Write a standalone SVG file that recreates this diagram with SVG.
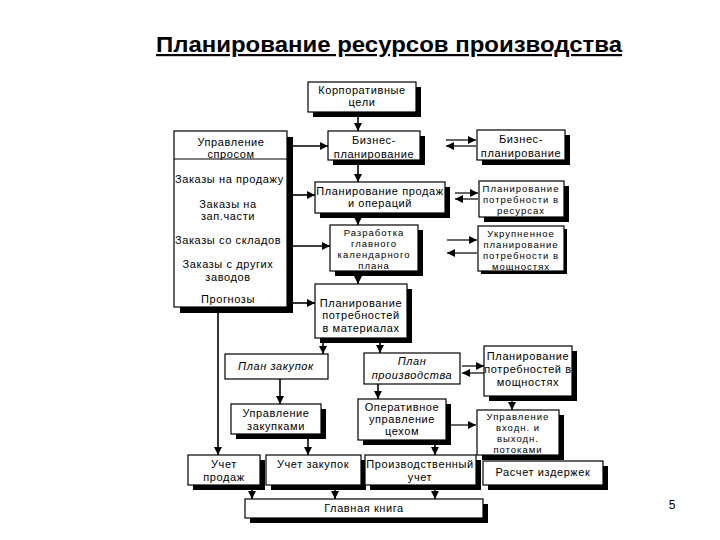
<svg xmlns="http://www.w3.org/2000/svg" width="720" height="540" viewBox="0 0 720 540">
<defs>
<marker id="ah" markerUnits="userSpaceOnUse" markerWidth="8" markerHeight="8" refX="8" refY="4" orient="auto">
<path d="M0,0 L8,4 L0,8 z" fill="#000"/>
</marker>
<style>
.b{fill:#fff;stroke:#000;stroke-width:1.2}
.s{fill:#000}
.t{font-family:"Liberation Sans",Arial,sans-serif;font-size:11px;letter-spacing:0.6px;fill:#000;text-anchor:middle}
.sm{font-size:9.5px;letter-spacing:1px}
.l{text-anchor:start}
.i{font-style:italic}
.c{stroke:#000;stroke-width:1.6;fill:none;marker-end:url(#ah)}
.c2{stroke:#000;stroke-width:1.2;fill:none;marker-end:url(#ah)}
</style>
</defs>
<rect width="720" height="540" fill="#fff"/>
<text x="389" y="52" font-family="'Liberation Sans',Arial,sans-serif" font-size="22" font-weight="bold" text-anchor="middle" text-decoration="underline" textLength="466" lengthAdjust="spacingAndGlyphs">Планирование ресурсов производства</text>

<g id="connectors">
<path class="c" d="M358,112 V131"/>
<path class="c" d="M358,160 V182"/>
<path class="c" d="M358,213 V225"/>
<path class="c" d="M358,271 V284"/>
<path class="c" d="M292,146 H328"/>
<path class="c" d="M292,195 H315"/>
<path class="c" d="M292,246 H330"/>
<path class="c" d="M292,303 H315"/>
<path class="c" d="M218,312 V455"/>
<path class="c2" d="M446,140 H476"/>
<path class="c2" d="M476,146 H446"/>
<path class="c2" d="M455,193 H478"/>
<path class="c2" d="M478,199 H455"/>
<path class="c2" d="M447,240 H477"/>
<path class="c2" d="M477,253 H447"/>
<path class="c" d="M323,343 V354"/>
<path class="c" d="M380,343 V353"/>
<path class="c" d="M280,379 V404"/>
<path class="c" d="M378,384 V399"/>
<path class="c2" d="M462,366 H484"/>
<path class="c2" d="M484,373 H462"/>
<path class="c2" d="M512,401 V410"/>
<path class="c2" d="M451,425 H476"/>
<path class="c" d="M308,439 V455"/>
<path class="c" d="M435,445 V455"/>
<path class="c" d="M252,490 V499"/>
<path class="c" d="M335,490 V499"/>
<path class="c" d="M435,490 V499"/>
</g>

<g id="korp">
<rect class="s" x="313" y="87" width="108" height="30"/>
<rect class="b" x="308" y="82" width="108" height="30"/>
<text class="t" x="362" y="94">Корпоративные</text>
<text class="t" x="362" y="106">цели</text>
</g>

<g id="biz-center">
<rect class="s" x="333" y="136" width="92" height="29"/>
<rect class="b" x="328" y="131" width="92" height="29"/>
<text class="t" x="374" y="144">Бизнес-</text>
<text class="t" x="374" y="158">планирование</text>
</g>

<g id="demand">
<rect class="s" x="180" y="137" width="113" height="176"/>
<rect class="b" x="174" y="131" width="113" height="176"/>
<line x1="174" y1="159" x2="287" y2="159" stroke="#000" stroke-width="1.2"/>
<text class="t" x="231" y="146">Управление</text>
<text class="t" x="231" y="158">спросом</text>
<text class="t l" x="175" y="183">Заказы на продажу</text>
<text class="t" x="228" y="208">Заказы на</text>
<text class="t" x="228" y="220">зап.части</text>
<text class="t l" x="175" y="244">Заказы со складов</text>
<text class="t" x="228" y="268">Заказы с других</text>
<text class="t" x="228" y="281">заводов</text>
<text class="t" x="228" y="303">Прогнозы</text>
</g>

<g id="sales-ops">
<rect class="s" x="320" y="187" width="130" height="31"/>
<rect class="b" x="315" y="182" width="130" height="31"/>
<text class="t" x="380" y="195">Планирование продаж</text>
<text class="t" x="380" y="207">и операций</text>
</g>

<g id="master">
<rect class="s" x="335" y="230" width="88" height="46"/>
<rect class="b" x="330" y="225" width="88" height="46"/>
<text class="t sm" x="374" y="236">Разработка</text>
<text class="t sm" x="374" y="247">главного</text>
<text class="t sm" x="374" y="258">календарного</text>
<text class="t sm" x="374" y="269">плана</text>
</g>

<g id="mrp">
<rect class="s" x="320" y="289" width="92" height="54"/>
<rect class="b" x="315" y="284" width="92" height="54"/>
<text class="t" x="361" y="307">Планирование</text>
<text class="t" x="361" y="319">потребностей</text>
<text class="t" x="361" y="332">в материалах</text>
</g>

<g id="biz-right">
<rect class="s" x="482" y="135" width="88" height="30"/>
<rect class="b" x="477" y="130" width="88" height="30"/>
<text class="t" x="521" y="143">Бизнес-</text>
<text class="t" x="521" y="157">планирование</text>
</g>

<g id="resources">
<rect class="s" x="484" y="186" width="85" height="36"/>
<rect class="b" x="479" y="181" width="85" height="36"/>
<text class="t sm" x="521" y="192">Планирование</text>
<text class="t sm" x="521" y="203">потребности в</text>
<text class="t sm" x="521" y="214">ресурсах</text>
</g>

<g id="rough-cut">
<rect class="s" x="481" y="229" width="86" height="45"/>
<rect class="b" x="478" y="226" width="86" height="45"/>
<text class="t sm" x="521" y="237">Укрупненное</text>
<text class="t sm" x="521" y="248">планирование</text>
<text class="t sm" x="521" y="259">потребности в</text>
<text class="t sm" x="521" y="270">мощностях</text>
</g>

<g id="purchase-plan">
<rect class="b" x="225" y="354" width="103" height="25"/>
<text class="t i" x="276" y="370">План закупок</text>
</g>

<g id="prod-plan">
<rect class="b" x="364" y="353" width="96" height="31"/>
<text class="t i" x="412" y="365">План</text>
<text class="t i" x="412" y="379">производства</text>
</g>

<g id="crp">
<rect class="s" x="489" y="351" width="88" height="50"/>
<rect class="b" x="484" y="346" width="88" height="50"/>
<text class="t" x="528" y="360">Планирование</text>
<text class="t" x="528" y="373">потребностей в</text>
<text class="t" x="528" y="386">мощностях</text>
</g>

<g id="purchasing">
<rect class="s" x="236" y="409" width="90" height="30"/>
<rect class="b" x="231" y="404" width="90" height="30"/>
<text class="t" x="276" y="417">Управление</text>
<text class="t" x="276" y="430">закупками</text>
</g>

<g id="shop-floor">
<rect class="s" x="363" y="404" width="88" height="41"/>
<rect class="b" x="358" y="399" width="88" height="41"/>
<text class="t" x="402" y="411">Оперативное</text>
<text class="t" x="402" y="423">управление</text>
<text class="t" x="402" y="435">цехом</text>
</g>

<g id="io-control">
<rect class="s" x="482" y="415" width="82" height="45"/>
<rect class="b" x="477" y="410" width="82" height="45"/>
<text class="t sm" x="518" y="420">Управление</text>
<text class="t sm" x="518" y="431">входн. и</text>
<text class="t sm" x="518" y="442">выходн.</text>
<text class="t sm" x="518" y="453">потоками</text>
</g>

<g id="sales-acc">
<rect class="s" x="193" y="460" width="72" height="30"/>
<rect class="b" x="188" y="455" width="72" height="30"/>
<text class="t" x="224" y="468">Учет</text>
<text class="t" x="224" y="481">продаж</text>
</g>

<g id="purchase-acc">
<rect class="s" x="271" y="460" width="95" height="30"/>
<rect class="b" x="266" y="455" width="95" height="30"/>
<text class="t" x="313" y="468">Учет закупок</text>
</g>

<g id="prod-acc">
<rect class="s" x="370" y="460" width="111" height="30"/>
<rect class="b" x="365" y="455" width="111" height="30"/>
<text class="t" x="420" y="468">Производственный</text>
<text class="t" x="420" y="481">учет</text>
</g>

<g id="costing">
<rect class="s" x="488" y="466" width="120" height="24"/>
<rect class="b" x="483" y="461" width="120" height="24"/>
<text class="t" x="543" y="476">Расчет издержек</text>
</g>

<g id="ledger">
<rect class="s" x="250" y="504" width="238" height="19"/>
<rect class="b" x="245" y="499" width="238" height="19"/>
<text class="t" x="364" y="512">Главная книга</text>
</g>

<text x="672" y="509" font-family="'Liberation Sans',Arial,sans-serif" font-size="12" text-anchor="middle">5</text>
</svg>
